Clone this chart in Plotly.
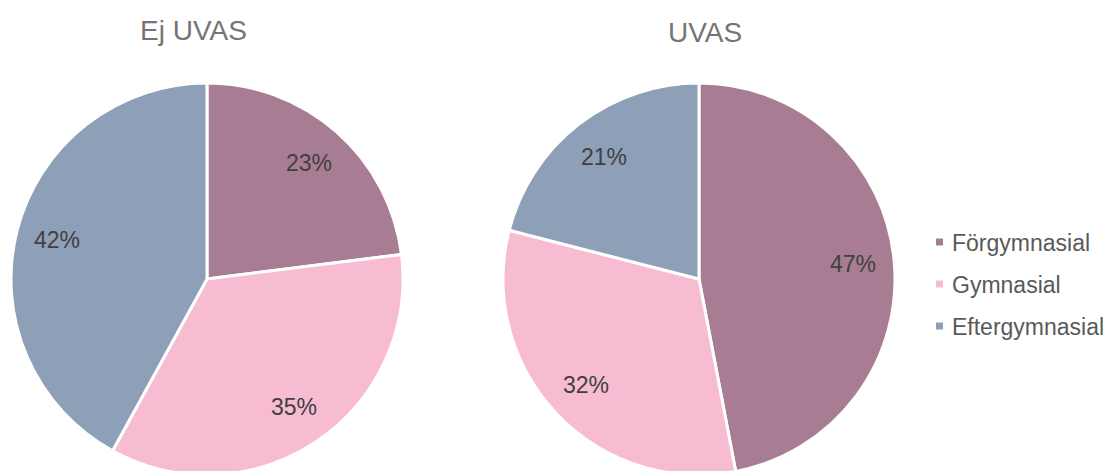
import math
import plotly.graph_objects as go

categories = ["Förgymnasial", "Gymnasial", "Eftergymnasial"]
colors = ["#A87D93", "#F7BCD1", "#8E9FB8"]
titles = ["Ej UVAS", "UVAS"]
values_ej_uvas = [23, 35, 42]
values_uvas = [47, 32, 21]

W, H = 1112, 471
OFF = 8  # page body margin: figure pixel = screen pixel - OFF
FONT = "Liberation Sans, Arial, sans-serif"

# layout geometry (screen pixels)
centers_x = [207, 699]
center_y = 279
R = 196
label_frac = 0.79


def px2x(px):
    return (px - OFF) / W


def px2y(py):
    return 1 - (py - OFF) / H


fig = go.Figure()
annotations = []
for i, (vals, title) in enumerate(zip([values_ej_uvas, values_uvas], titles)):
    cx = centers_x[i]
    fig.add_trace(go.Pie(
        labels=categories,
        values=vals,
        sort=False,
        direction="clockwise",
        rotation=0,
        marker=dict(colors=colors, line=dict(color="white", width=3)),
        textinfo="none",
        hoverinfo="label+percent",
        showlegend=False,
        domain=dict(x=[px2x(cx - R), px2x(cx + R)],
                    y=[px2y(center_y + R), px2y(center_y - R)]),
    ))
    total = sum(vals)
    cum = 0
    for v in vals:
        mid = (cum + v / 2) / total * 2 * math.pi
        cum += v
        px = cx + label_frac * R * math.sin(mid)
        py = center_y - label_frac * R * math.cos(mid)
        annotations.append(dict(
            x=px2x(px), y=px2y(py), xref="paper", yref="paper",
            text=f"{round(v / total * 100)}%", showarrow=False,
            xanchor="center", yanchor="middle",
            font=dict(family=FONT, size=23, color="#404040"),
        ))

title_pos = [(193, 31), (705, 33)]
for (tx, ty), t in zip(title_pos, titles):
    annotations.append(dict(
        x=px2x(tx), y=px2y(ty), xref="paper", yref="paper", text=t,
        showarrow=False, xanchor="center", yanchor="middle",
        font=dict(family=FONT, size=28, color="#757575"),
    ))

shapes = []
leg_x, leg_y0, leg_dy, sq = 936, 242, 42, 7
for j, (cat, col) in enumerate(zip(categories, colors)):
    yy = leg_y0 + j * leg_dy
    shapes.append(dict(type="rect", xref="paper", yref="paper",
                       x0=px2x(leg_x), x1=px2x(leg_x + sq),
                       y0=px2y(yy + sq / 2), y1=px2y(yy - sq / 2),
                       fillcolor=col, line=dict(width=0)))
    annotations.append(dict(
        x=px2x(leg_x + sq + 7), y=px2y(yy + 1), xref="paper", yref="paper",
        text=cat, showarrow=False, xanchor="left", yanchor="middle",
        font=dict(family=FONT, size=23, color="#595959"),
    ))

fig.update_layout(
    width=W, height=H,
    margin=dict(l=0, r=0, t=0, b=0),
    paper_bgcolor="white", plot_bgcolor="white",
    annotations=annotations, shapes=shapes,
    showlegend=False,
)
fig.write_html("out.html")
